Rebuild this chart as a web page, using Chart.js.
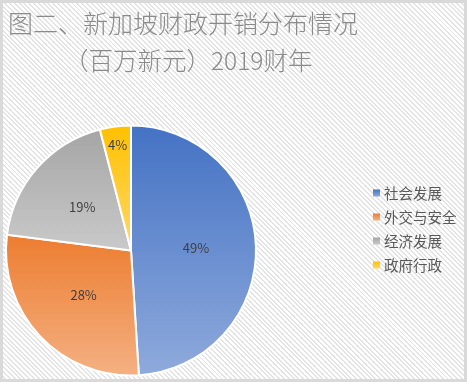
<!DOCTYPE html>
<html lang="zh">
<head>
  <meta charset="UTF-8">
  <title>新加坡财政开销分布情况</title>
  <script src="https://cdn.jsdelivr.net/npm/chart.js"></script>
  <style>
    body { margin: 0; }
    #wrap {
      position: relative;
      width: 467px;
      height: 382px;
      background: repeating-linear-gradient(45deg, #ffffff 0 2px, #e4e4e4 2px 3.4px);
      box-shadow: inset 0 0 0 3px #d9d9d9;
    }
    #pie { position: absolute; left: 0; top: 0; }
  </style>
</head>
<body>
  <div id="wrap"><canvas id="pie" width="467" height="382"></canvas></div>

  <script>
    const titleLines = ['图二、新加坡财政开销分布情况', '（百万新元）2019财年'];
    const categories = ['社会发展', '外交与安全', '经济发展', '政府行政'];
    const shares = [49, 28, 19, 4];
    const darkColors = ['#4472C4', '#ED7D31', '#A5A5A5', '#FFC000'];
    const lightColors = ['#8FAADC', '#F4B183', '#C9C9C9', '#FFD966'];

    const cjk = '"Noto Sans CJK SC", "Noto Sans", sans-serif';
    const total = shares.reduce((a, b) => a + b, 0);

    // gradient over each slice's own vertical extent, like the office charts do
    function sliceFill(c) {
      const chart = c.chart, area = chart.chartArea;
      const i = c.dataIndex;
      if (!area) return darkColors[i];
      const cx = (area.left + area.right) / 2, cy = (area.top + area.bottom) / 2;
      const r = Math.min(area.width, area.height) / 2;
      let before = 0;
      for (let k = 0; k < i; k++) before += shares[k];
      const a0 = -Math.PI / 2 + before / total * 2 * Math.PI;
      const a1 = a0 + shares[i] / total * 2 * Math.PI;
      let yMin = cy, yMax = cy;
      for (let a = a0; a <= a1; a += 0.01) {
        const y = cy + r * Math.sin(a);
        yMin = Math.min(yMin, y); yMax = Math.max(yMax, y);
      }
      const g = chart.ctx.createLinearGradient(0, yMin, 0, yMax);
      g.addColorStop(0, darkColors[i]);
      g.addColorStop(1, lightColors[i]);
      return g;
    }

    const decor = {
      id: 'decor',
      afterDatasetsDraw(chart) {
        const ctx = chart.ctx;
        const meta = chart.getDatasetMeta(0);
        ctx.save();
        // percent labels
        ctx.font = '13px ' + cjk;
        ctx.fillStyle = '#404040';
        ctx.textAlign = 'center';
        ctx.textBaseline = 'middle';
        meta.data.forEach((arc, i) => {
          const mid = (arc.startAngle + arc.endAngle) / 2;
          const rr = arc.outerRadius * (shares[i] < 10 ? 0.85 : 0.52);
          ctx.fillText(shares[i] + '%', arc.x + Math.cos(mid) * rr, arc.y + Math.sin(mid) * rr);
        });
        // title
        ctx.font = '300 25px ' + cjk;
        ctx.fillStyle = '#8a8a8a';
        ctx.textAlign = 'left';
        ctx.fillText(titleLines[0], 8, 23);
        ctx.font = '300 24.5px ' + cjk;
        ctx.fillText(titleLines[1], 64, 61);
        // legend
        ctx.font = '14.5px ' + cjk;
        categories.forEach((name, i) => {
          const y = 193 + i * 24;
          const g = ctx.createLinearGradient(0, y - 3.5, 0, y + 3.5);
          g.addColorStop(0, darkColors[i]);
          g.addColorStop(1, lightColors[i]);
          ctx.fillStyle = g;
          ctx.fillRect(373, y - 3.5, 7, 7);
          ctx.fillStyle = '#595959';
          ctx.fillText(name, 384, y);
        });
        ctx.restore();
      }
    };

    new Chart(document.getElementById('pie'), {
      type: 'pie',
      data: {
        labels: categories,
        datasets: [{
          data: shares,
          backgroundColor: sliceFill,
          borderColor: '#ffffff',
          borderWidth: 2
        }]
      },
      options: {
        responsive: false,
        animation: false,
        layout: { padding: { left: 5, right: 210, top: 124, bottom: 5 } },
        plugins: {
          legend: { display: false },
          tooltip: { enabled: false }
        }
      },
      plugins: [decor]
    });
  </script>
</body>
</html>
